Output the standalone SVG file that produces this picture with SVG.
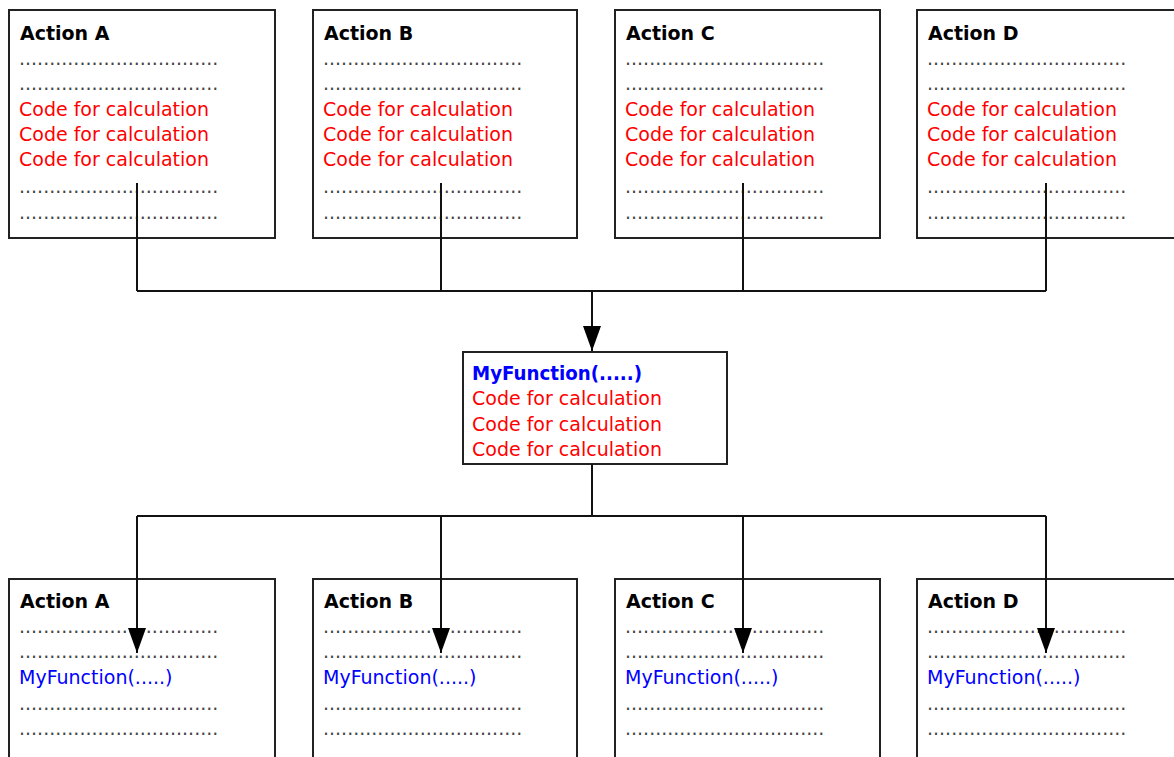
<svg xmlns="http://www.w3.org/2000/svg" width="1174" height="757" viewBox="0 0 1174 757">
<defs>
<style>
text{font-family:"DejaVu Sans","Liberation Sans",sans-serif;font-size:19px}
.box{fill:#fff;stroke:#222;stroke-width:2}
.title{font-weight:bold;fill:#000}
.dots{fill:#444}
.code{fill:#ff0000}
.fn{fill:#0000ff}
.fnb{fill:#0000ff;font-weight:bold}
.wire{fill:none;stroke:#111;stroke-width:2}
</style>
<marker id="arr" markerUnits="userSpaceOnUse" viewBox="0 0 25 18" refX="25" refY="9" markerWidth="25" markerHeight="18" orient="auto">
<path d="M0,0 L25,9 L0,18 Z" fill="#000"/>
</marker>
</defs>
<rect width="1174" height="757" fill="#fff"/>

<g id="top-action-a" transform="translate(9,0)">
<rect class="box" x="0" y="10" width="266" height="228"/>
<text class="title" x="11" y="40">Action A</text>
<text class="dots" x="10" y="64.6">.................................</text>
<text class="dots" x="10" y="90.3">.................................</text>
<text class="code" x="10" y="116">Code for calculation</text>
<text class="code" x="10" y="141">Code for calculation</text>
<text class="code" x="10" y="166">Code for calculation</text>
<text class="dots" x="10" y="193">.................................</text>
<text class="dots" x="10" y="219">.................................</text>
</g>
<g id="top-action-b" transform="translate(313,0)">
<rect class="box" x="0" y="10" width="264" height="228"/>
<text class="title" x="11" y="40">Action B</text>
<text class="dots" x="10" y="64.6">.................................</text>
<text class="dots" x="10" y="90.3">.................................</text>
<text class="code" x="10" y="116">Code for calculation</text>
<text class="code" x="10" y="141">Code for calculation</text>
<text class="code" x="10" y="166">Code for calculation</text>
<text class="dots" x="10" y="193">.................................</text>
<text class="dots" x="10" y="219">.................................</text>
</g>
<g id="top-action-c" transform="translate(615,0)">
<rect class="box" x="0" y="10" width="265" height="228"/>
<text class="title" x="11" y="40">Action C</text>
<text class="dots" x="10" y="64.6">.................................</text>
<text class="dots" x="10" y="90.3">.................................</text>
<text class="code" x="10" y="116">Code for calculation</text>
<text class="code" x="10" y="141">Code for calculation</text>
<text class="code" x="10" y="166">Code for calculation</text>
<text class="dots" x="10" y="193">.................................</text>
<text class="dots" x="10" y="219">.................................</text>
</g>
<g id="top-action-d" transform="translate(917,0)">
<rect class="box" x="0" y="10" width="265" height="228"/>
<text class="title" x="11" y="40">Action D</text>
<text class="dots" x="10" y="64.6">.................................</text>
<text class="dots" x="10" y="90.3">.................................</text>
<text class="code" x="10" y="116">Code for calculation</text>
<text class="code" x="10" y="141">Code for calculation</text>
<text class="code" x="10" y="166">Code for calculation</text>
<text class="dots" x="10" y="193">.................................</text>
<text class="dots" x="10" y="219">.................................</text>
</g>

<g id="myfunction">
<rect class="box" x="463" y="352" width="264" height="112"/>
<text class="fnb" x="472" y="380" textLength="170" lengthAdjust="spacingAndGlyphs">MyFunction(.....)</text>
<text class="code" x="472" y="405">Code for calculation</text>
<text class="code" x="472" y="430.5">Code for calculation</text>
<text class="code" x="472" y="456">Code for calculation</text>
</g>

<g id="bottom-action-a" transform="translate(9,0)">
<rect class="box" x="0" y="579" width="266" height="200"/>
<text class="title" x="11" y="608">Action A</text>
<text class="dots" x="10" y="633">.................................</text>
<text class="dots" x="10" y="658">.................................</text>
<text class="fn" x="10" y="684">MyFunction(.....)</text>
<text class="dots" x="10" y="709.6">.................................</text>
<text class="dots" x="10" y="735.3">.................................</text>
</g>
<g id="bottom-action-b" transform="translate(313,0)">
<rect class="box" x="0" y="579" width="264" height="200"/>
<text class="title" x="11" y="608">Action B</text>
<text class="dots" x="10" y="633">.................................</text>
<text class="dots" x="10" y="658">.................................</text>
<text class="fn" x="10" y="684">MyFunction(.....)</text>
<text class="dots" x="10" y="709.6">.................................</text>
<text class="dots" x="10" y="735.3">.................................</text>
</g>
<g id="bottom-action-c" transform="translate(615,0)">
<rect class="box" x="0" y="579" width="265" height="200"/>
<text class="title" x="11" y="608">Action C</text>
<text class="dots" x="10" y="633">.................................</text>
<text class="dots" x="10" y="658">.................................</text>
<text class="fn" x="10" y="684">MyFunction(.....)</text>
<text class="dots" x="10" y="709.6">.................................</text>
<text class="dots" x="10" y="735.3">.................................</text>
</g>
<g id="bottom-action-d" transform="translate(917,0)">
<rect class="box" x="0" y="579" width="265" height="200"/>
<text class="title" x="11" y="608">Action D</text>
<text class="dots" x="10" y="633">.................................</text>
<text class="dots" x="10" y="658">.................................</text>
<text class="fn" x="10" y="684">MyFunction(.....)</text>
<text class="dots" x="10" y="709.6">.................................</text>
<text class="dots" x="10" y="735.3">.................................</text>
</g>

<g id="connectors">
<path class="wire" d="M137,183 V291"/>
<path class="wire" d="M441,183 V291"/>
<path class="wire" d="M743,183 V291"/>
<path class="wire" d="M1046,183 V291"/>
<path class="wire" d="M137,291 H1046"/>
<path class="wire" d="M592,291 V351" marker-end="url(#arr)"/>
<path class="wire" d="M592,464 V516"/>
<path class="wire" d="M137,516 H1046"/>
<path class="wire" d="M137,516 V653" marker-end="url(#arr)"/>
<path class="wire" d="M441,516 V653" marker-end="url(#arr)"/>
<path class="wire" d="M743,516 V653" marker-end="url(#arr)"/>
<path class="wire" d="M1046,516 V653" marker-end="url(#arr)"/>
</g>
</svg>
